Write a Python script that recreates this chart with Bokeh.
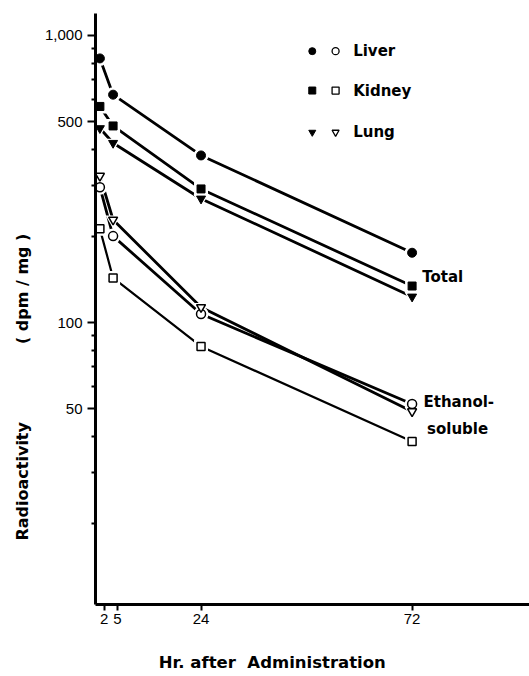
from bokeh.plotting import figure
from bokeh.models import Range1d, FixedTicker, NumeralTickFormatter, Label, Title
from bokeh.embed import file_html
from bokeh.resources import INLINE

# ---- data ----
hours = [1, 4, 24, 72]
liver_total = [832, 622, 382, 175]
kidney_total = [566, 484, 292, 134]
lung_total = [475, 422, 270, 123]
liver_eth = [296, 200, 107, 52]
kidney_eth = [212, 143, 82.5, 38.5]
lung_eth = [324, 228, 113, 49]

x_ticks = [2, 5, 24, 72]
y_major = [50, 100, 500, 1000]
y_minor = [20, 30, 40, 60, 70, 80, 90, 200, 300, 400, 600, 700, 800, 900]

organs = ["Liver", "Kidney", "Lung"]
markers = ["circle", "square", "inverted_triangle"]

p = figure(width=529, height=676, x_range=Range1d(0, 98.7),
           y_range=Range1d(10.41, 1193), y_axis_type="log",
           output_backend="svg", toolbar_location=None,
           min_border_left=95, min_border_right=0, min_border_top=13,
           min_border_bottom=72)
p.grid.visible = False
p.outline_line_color = None

TICK_FONT = "Liberation Sans"
LBL_FONT = "DejaVu Sans"
NB = "\u00a0"

xa = p.xaxis[0]
xa.ticker = FixedTicker(ticks=x_ticks, minor_ticks=[])
xa.axis_line_width = 3
xa.major_tick_line_width = 2
xa.major_tick_out = 6
xa.major_tick_in = 0
xa.major_label_standoff = 3
xa.major_label_text_font = TICK_FONT
xa.major_label_text_font_size = "15px"
xa.major_label_text_color = "black"
xa.axis_label = "Hr. after" + NB + " Administration" + NB * 14
xa.axis_label_text_font = LBL_FONT
xa.axis_label_text_font_style = "bold"
xa.axis_label_text_font_size = "16.5px"
xa.axis_label_text_color = "black"
xa.axis_label_standoff = 26

ya = p.yaxis[0]
ya.ticker = FixedTicker(ticks=y_major, minor_ticks=y_minor)
ya.formatter = NumeralTickFormatter(format="0,0")
ya.axis_line_width = 3
ya.major_tick_line_width = 2
ya.minor_tick_line_width = 2
ya.major_tick_out = 8
ya.major_tick_in = 0
ya.minor_tick_out = 4
ya.minor_tick_in = 0
ya.major_label_standoff = 5
ya.major_label_text_font = TICK_FONT
ya.major_label_text_font_size = "15px"
ya.major_label_text_color = "black"

totals = [liver_total, kidney_total, lung_total]
eths = [liver_eth, kidney_eth, lung_eth]
sizes = [9, 8, 9]

# lines
for vals in totals:
    p.line(hours, vals, line_color="black", line_width=2.8)
for vals, w in zip(eths, [2.8, 2.2, 2.8]):
    p.line(hours, vals, line_color="black", line_width=w)

# white halos so that lines stop short of the markers
for vals, m, s in zip(totals + eths, markers + markers, sizes + sizes):
    p.scatter(hours, vals, marker=m, size=s + 6, fill_color="white",
              line_color=None)

# markers
for vals, m, s in zip(totals, markers, sizes):
    p.scatter(hours, vals, marker=m, size=s, fill_color="black",
              line_color="black", line_width=1)
for vals, m, s in zip(eths, markers, sizes):
    p.scatter(hours, vals, marker=m, size=s, fill_color="white",
              line_color="black", line_width=1.5)

# legend (placed in data units)
leg_x_filled = 49.3
leg_x_open = 54.6
leg_x_text = 58.6
leg_y = [882, 643, 460]
for name, m, yy in zip(organs, markers, leg_y):
    p.scatter([leg_x_filled], [yy], marker=m, size=7, fill_color="black",
              line_color="black")
    p.scatter([leg_x_open], [yy], marker=m, size=7, fill_color="white",
              line_color="black", line_width=1.3)
    p.add_layout(Label(x=leg_x_text, y=yy, text=name, text_font=LBL_FONT,
                       text_font_style="bold", text_font_size="15px",
                       text_color="black",
                       text_baseline="middle", text_align="left"))

def lab(x, y, t, size="15px"):
    p.add_layout(Label(x=x, y=y, text=t, text_font=LBL_FONT,
                       text_font_style="bold", text_font_size=size,
                       text_color="black",
                       text_baseline="middle", text_align="left"))

lab(74.3, 144, "Total")
lab(74.6, 52.7, "Ethanol-")
lab(75.4, 42.4, "soluble")

# y-axis title
yt = Title(text="Radioactivity" + NB * 14 + "( dpm / mg )", align="left",
           offset=64, text_font=LBL_FONT, text_font_style="bold",
           text_font_size="16px", text_color="black", standoff=20)
p.add_layout(yt, "left")

open("out.html", "w").write(file_html(p, INLINE))
